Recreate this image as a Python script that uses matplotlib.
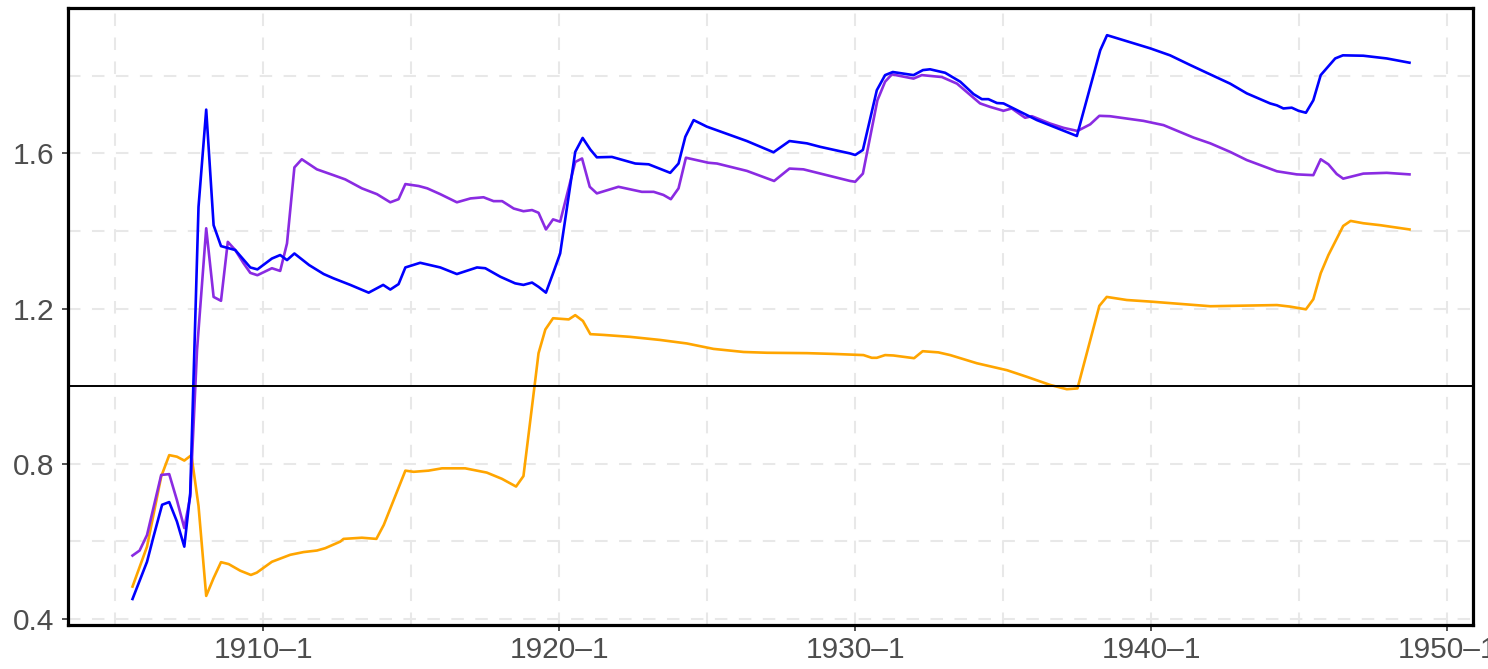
import matplotlib
matplotlib.use("Agg")
import matplotlib.pyplot as plt

plt.rcParams['font.family'] = ['Liberation Sans', 'DejaVu Sans']

# blue series
blue_t = [1905.58, 1906.07, 1906.29, 1906.58, 1906.82, 1907.08, 1907.33, 1907.53, 1907.81,
          1908.07, 1908.32, 1908.57, 1909.05, 1909.56, 1909.80, 1910.29, 1910.57, 1910.80,
          1911.05, 1911.55, 1912.04, 1912.37, 1912.94, 1913.56, 1914.05, 1914.29, 1914.57,
          1914.80, 1915.30, 1915.98, 1916.54, 1917.22, 1917.50, 1918.01, 1918.51, 1918.79,
          1919.08, 1919.30, 1919.55, 1919.81, 1920.03, 1920.54, 1920.79, 1921.05, 1921.27,
          1921.78, 1922.57, 1923.02, 1923.75, 1924.03, 1924.26, 1924.54, 1924.99, 1926.34,
          1927.24, 1927.78, 1928.37, 1928.82, 1929.83, 1930.00, 1930.26, 1930.73, 1931.01,
          1931.27, 1931.97, 1932.29, 1932.53, 1933.04, 1933.55, 1934.00, 1934.28, 1934.50,
          1934.79, 1935.01, 1935.80, 1936.14, 1937.49, 1938.28, 1938.51, 1939.97, 1940.64,
          1941.32, 1941.88, 1942.67, 1943.23, 1944.02, 1944.25, 1944.47, 1944.75, 1944.98,
          1945.23, 1945.48, 1945.73, 1946.22, 1946.48, 1947.17, 1947.96, 1948.73]
blue_v = [0.451, 0.547, 0.612, 0.694, 0.701, 0.651, 0.586, 0.724, 1.462,
          1.713, 1.415, 1.361, 1.351, 1.306, 1.301, 1.329, 1.338, 1.325,
          1.342, 1.312, 1.289, 1.278, 1.261, 1.241, 1.261, 1.249, 1.263,
          1.306, 1.318, 1.306, 1.289, 1.306, 1.304, 1.282, 1.265, 1.261,
          1.267, 1.256, 1.241, 1.295, 1.342, 1.604, 1.640, 1.610, 1.590,
          1.591, 1.574, 1.572, 1.550, 1.574, 1.643, 1.686, 1.669, 1.632,
          1.603, 1.632, 1.626, 1.617, 1.600, 1.596, 1.609, 1.763, 1.802,
          1.810, 1.802, 1.815, 1.817, 1.808, 1.785, 1.753, 1.740, 1.740,
          1.730, 1.729, 1.699, 1.686, 1.645, 1.866, 1.905, 1.871, 1.853,
          1.828, 1.808, 1.780, 1.755, 1.729, 1.724, 1.716, 1.718, 1.710,
          1.705, 1.737, 1.802, 1.845, 1.853, 1.852, 1.845, 1.834]

# purple series
purple_t = [1905.58, 1905.82, 1906.07, 1906.55, 1906.82, 1907.08, 1907.33, 1907.53, 1907.76,
            1908.07, 1908.32, 1908.57, 1908.80, 1909.05, 1909.33, 1909.56, 1909.80, 1910.29,
            1910.57, 1910.80, 1911.05, 1911.30, 1911.81, 1912.37, 1912.77, 1913.33, 1913.84,
            1914.29, 1914.57, 1914.80, 1915.25, 1915.54, 1915.98, 1916.54, 1917.00, 1917.44,
            1917.78, 1918.07, 1918.46, 1918.79, 1919.08, 1919.30, 1919.55, 1919.79, 1920.03,
            1920.54, 1920.77, 1921.03, 1921.27, 1922.00, 1922.79, 1923.19, 1923.52, 1923.77,
            1924.03, 1924.28, 1925.04, 1925.33, 1926.34, 1927.26, 1927.78, 1928.25, 1929.83,
            1930.00, 1930.26, 1930.75, 1931.01, 1931.24, 1931.97, 1932.25, 1932.93, 1933.44,
            1934.22, 1934.56, 1935.01, 1935.29, 1935.74, 1935.97, 1936.59, 1937.04, 1937.51,
            1937.94, 1938.25, 1938.61, 1939.74, 1940.42, 1941.43, 1942.00, 1942.67, 1943.23,
            1944.25, 1944.92, 1945.48, 1945.73, 1945.99, 1946.27, 1946.49, 1947.17, 1947.96,
            1948.73]
purple_v = [0.563, 0.576, 0.616, 0.771, 0.773, 0.706, 0.634, 0.715, 1.093,
            1.407, 1.230, 1.220, 1.372, 1.351, 1.317, 1.292, 1.286, 1.304,
            1.297, 1.368, 1.564, 1.585, 1.559, 1.544, 1.533, 1.510, 1.495,
            1.474, 1.482, 1.521, 1.516, 1.510, 1.495, 1.474, 1.484, 1.487,
            1.477, 1.477, 1.458, 1.451, 1.454, 1.447, 1.404, 1.430, 1.424,
            1.578, 1.587, 1.514, 1.497, 1.514, 1.501, 1.501, 1.493, 1.482,
            1.510, 1.589, 1.576, 1.574, 1.555, 1.529, 1.561, 1.559, 1.529,
            1.527, 1.548, 1.737, 1.785, 1.804, 1.793, 1.802, 1.797, 1.780,
            1.729, 1.720, 1.710, 1.716, 1.692, 1.696, 1.677, 1.666, 1.658,
            1.675, 1.697, 1.696, 1.684, 1.673, 1.641, 1.626, 1.604, 1.583,
            1.554, 1.546, 1.544, 1.585, 1.572, 1.547, 1.535, 1.548, 1.550,
            1.546]

# orange series
orange_t = [1905.58, 1906.07, 1906.55, 1906.82, 1907.08, 1907.33, 1907.57, 1907.81, 1908.07,
            1908.32, 1908.57, 1908.83, 1909.22, 1909.58, 1909.78, 1910.29, 1910.91, 1911.36,
            1911.81, 1912.09, 1912.60, 1912.71, 1913.33, 1913.82, 1914.07, 1914.80, 1915.08,
            1915.58, 1916.04, 1916.82, 1917.55, 1918.06, 1918.54, 1918.79, 1919.19, 1919.30,
            1919.53, 1919.79, 1920.32, 1920.54, 1920.80, 1921.05, 1921.50, 1922.40, 1923.41,
            1924.31, 1925.21, 1926.23, 1927.02, 1928.37, 1929.27, 1930.28, 1930.56, 1930.73,
            1931.01, 1931.29, 1931.99, 1932.28, 1932.81, 1933.21, 1934.11, 1935.13, 1935.80,
            1936.59, 1937.15, 1937.51, 1938.25, 1938.50, 1939.18, 1939.97, 1942.00, 1944.25,
            1944.70, 1945.23, 1945.48, 1945.73, 1945.99, 1946.49, 1946.74, 1947.17, 1947.74,
            1948.73]
orange_v = [0.483, 0.586, 0.767, 0.822, 0.818, 0.808, 0.822, 0.691, 0.459,
            0.505, 0.546, 0.541, 0.524, 0.513, 0.519, 0.547, 0.565, 0.572,
            0.576, 0.582, 0.599, 0.606, 0.609, 0.606, 0.642, 0.782, 0.779,
            0.782, 0.788, 0.788, 0.777, 0.761, 0.741, 0.768, 1.016, 1.085,
            1.146, 1.175, 1.172, 1.183, 1.168, 1.134, 1.132, 1.127, 1.119,
            1.110, 1.096, 1.088, 1.086, 1.085, 1.083, 1.080, 1.073, 1.073,
            1.080, 1.079, 1.072, 1.090, 1.087, 1.080, 1.059, 1.041, 1.024,
            1.003, 0.992, 0.994, 1.207, 1.230, 1.222, 1.218, 1.206, 1.209,
            1.205, 1.198, 1.224, 1.291, 1.338, 1.413, 1.426, 1.420, 1.415,
            1.404]

x_ticks = [1910, 1920, 1930, 1940, 1950]
x_labels = ['1910\u20131', '1920\u20131', '1930\u20131', '1940\u20131', '1950\u20131']
y_ticks = [0.4, 0.8, 1.2, 1.6]
y_labels = ['0.4', '0.8', '1.2', '1.6']

fig = plt.figure(figsize=(14.88, 6.69), dpi=100)
ax = fig.add_axes([0.0457, 0.0658, 0.9443, 0.9222])

# dashed grid, major + minor
gkw = dict(color='#E8E8E8', linewidth=1.5, linestyle=(0, (6, 5.5)), zorder=0)
for gx in range(1905, 1951, 5):
    ax.axvline(gx, **gkw)
for gy in [0.4, 0.6, 0.8, 1.0, 1.2, 1.4, 1.6, 1.8]:
    ax.axhline(gy, **gkw)

ax.plot(orange_t, orange_v, color='#FFA500', lw=1.9, zorder=3)
ax.plot(purple_t, purple_v, color='#8A2BE2', lw=1.9, zorder=4)
ax.plot(blue_t, blue_v, color='#0000FF', lw=1.9, zorder=5)
ax.axhline(1.0, color='black', lw=1.4, zorder=6)

ax.set_xlim(1903.4, 1950.88)
ax.set_ylim(0.384, 1.975)
ax.set_xticks(x_ticks)
ax.set_xticklabels(x_labels)
ax.set_yticks(y_ticks)
ax.set_yticklabels(y_labels)
ax.tick_params(axis='both', direction='out', length=4, width=1.2, color='#333333',
               labelsize=21.5, labelcolor='#4D4D4D')
ax.tick_params(axis='x', pad=4)
ax.tick_params(axis='y', pad=6)
for sp in ax.spines.values():
    sp.set_linewidth(2.3)
    sp.set_color('black')

fig.savefig('out.png', dpi=100)
